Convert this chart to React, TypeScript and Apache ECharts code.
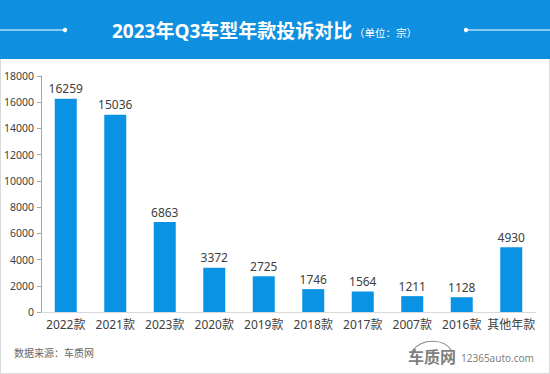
import React, { useEffect, useRef } from "react";
import * as echarts from "echarts";

const categories = ["2022款", "2021款", "2023款", "2020款", "2019款", "2018款", "2017款", "2007款", "2016款", "其他年款"];
const complaints = [16259, 15036, 6863, 3372, 2725, 1746, 1564, 1211, 1128, 4930];
const titleText = "2023年Q3车型年款投诉对比";
const unitText = "（单位：宗）";
const sourceText = "数据来源：车质网";

const FONT = "'Noto Sans', 'Noto Sans CJK SC', sans-serif";

export default function App() {
  const ref = useRef<HTMLDivElement>(null);
  useEffect(() => {
    document.body.style.margin = "0";
    const chart = echarts.init(ref.current!, null, { renderer: "svg" });
    chart.setOption({
      animation: false,
      backgroundColor: "#ffffff",
      grid: { left: 41, right: 14, top: 76, bottom: 62, containLabel: false },
      xAxis: {
        type: "category",
        data: categories,
        axisLine: { show: true, lineStyle: { color: "#d9d9d9", width: 1 } },
        axisTick: { show: false },
        axisLabel: { color: "#404040", fontSize: 12, margin: 6, fontFamily: FONT, interval: 0 },
      },
      yAxis: {
        type: "value",
        min: 0,
        max: 18000,
        interval: 2000,
        splitLine: { show: false },
        axisLine: { show: true, lineStyle: { color: "#a6a6a6", width: 1 } },
        axisTick: { show: true, length: 4, lineStyle: { color: "#a6a6a6" } },
        axisLabel: {
          color: "#404040",
          fontSize: 10.5,
          margin: 7,
          fontFamily: FONT,
          formatter: (v: number) => String(v),
        },
      },
      series: [
        {
          type: "bar",
          data: complaints,
          barWidth: 22,
          itemStyle: { color: "#0a93e4" },
          label: {
            show: true,
            position: "top",
            distance: 4,
            color: "#404040",
            fontSize: 12,
            fontFamily: FONT,
          },
        },
      ],
      graphic: [
        { type: "rect", shape: { x: 0, y: 0, width: 550, height: 374 }, style: { fill: "none", stroke: "#d9d9d9", lineWidth: 2 }, z: 0 },
        { type: "rect", shape: { x: 0, y: 0, width: 550, height: 59 }, style: { fill: "#0f8fe0" }, z: 1 },
        { type: "line", shape: { x1: 0, y1: 30, x2: 65, y2: 30 }, style: { stroke: "#ffffff", lineWidth: 1 }, z: 2 },
        { type: "circle", shape: { cx: 65, cy: 30, r: 2.2 }, style: { fill: "#ffffff" }, z: 2 },
        { type: "line", shape: { x1: 466, y1: 30, x2: 550, y2: 30 }, style: { stroke: "#ffffff", lineWidth: 1 }, z: 2 },
        { type: "circle", shape: { cx: 466, cy: 30, r: 2.2 }, style: { fill: "#ffffff" }, z: 2 },
        {
          type: "text",
          x: 112,
          y: 31,
          style: { text: titleText, fill: "#ffffff", font: `bold 19px ${FONT}`, textVerticalAlign: "middle" },
          z: 2,
        },
        {
          type: "text",
          x: 354,
          y: 33,
          style: { text: unitText, fill: "#ffffff", font: `10.5px ${FONT}`, textVerticalAlign: "middle" },
          z: 2,
        },
        {
          type: "text",
          x: 14,
          y: 353,
          style: { text: sourceText, fill: "#666666", font: `10px ${FONT}`, textVerticalAlign: "middle" },
          z: 2,
        },
        {
          type: "bezierCurve",
          shape: { x1: 412, y1: 351, x2: 452, y2: 351, cpx1: 422, cpy1: 338, cpx2: 444, cpy2: 338 },
          style: { stroke: "#8c8c8c", fill: "none", lineWidth: 1.2 },
          z: 2,
        },
        {
          type: "text",
          x: 408,
          y: 357,
          style: { text: "车质网", fill: "#7f7f7f", font: `bold 16px ${FONT}`, textVerticalAlign: "middle" },
          z: 2,
        },
        {
          type: "text",
          x: 461,
          y: 358,
          style: { text: "12365auto.com", fill: "#7f7f7f", font: `10px ${FONT}`, textVerticalAlign: "middle" },
          z: 2,
        },
      ],
    });
    return () => chart.dispose();
  }, []);
  return <div ref={ref} style={{ position: "fixed", left: 0, top: 0, width: 550, height: 374 }} />;
}
